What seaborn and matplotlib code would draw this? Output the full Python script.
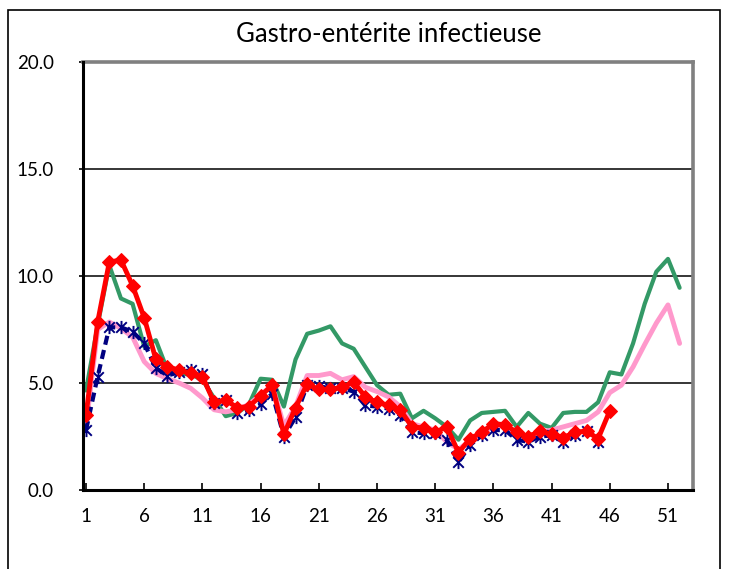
import matplotlib
matplotlib.use("Agg")
import matplotlib.pyplot as plt
from matplotlib.path import Path
from matplotlib.patches import Rectangle
import numpy as np
import pandas as pd
import seaborn as sns

sns.set_theme(style="white")
plt.rcParams["font.family"] = ["Lato", "DejaVu Sans"]

title = "Gastro-entérite infectieuse"

weeks_all = list(range(1, 53))

green_vals = [4.65, 7.7, 10.5, 8.95, 8.7, 6.7, 7.0, 5.6, 5.45, 5.4,
              5.15, 4.3, 3.45, 3.6, 4.0, 5.2, 5.15, 3.9, 6.1, 7.3,
              7.45, 7.65, 6.85, 6.6, 5.75, 4.9, 4.45, 4.5, 3.35, 3.7,
              3.35, 2.95, 2.35, 3.25, 3.6, 3.65, 3.7, 2.95, 3.6, 3.1,
              2.9, 3.6, 3.65, 3.65, 4.1, 5.5, 5.4, 6.85, 8.7, 10.2,
              10.8, 9.45]

pink_vals = [3.0, 7.5, 7.85, 7.55, 7.15, 6.0, 5.45, 5.2, 5.0, 4.75,
             4.3, 3.75, 3.65, 3.75, 4.0, 4.45, 4.9, 3.0, 3.9, 5.35,
             5.35, 5.45, 5.15, 5.3, 4.8, 4.6, 4.35, 3.9, 3.1, 2.95,
             2.8, 2.25, 1.9, 2.3, 2.6, 3.0, 3.0, 2.6, 2.5, 2.7,
             2.8, 2.95, 3.1, 3.25, 3.65, 4.55, 4.9, 5.75, 6.8, 7.8,
             8.65, 6.85]

blue_vals = [2.8, 5.3, 7.6, 7.6, 7.4, 6.85, 5.7, 5.35, 5.5, 5.6,
             5.4, 4.05, 4.2, 3.6, 3.75, 4.0, 4.5, 2.5, 3.4, 4.9,
             4.85, 4.75, 4.75, 4.6, 3.95, 3.9, 3.8, 3.5, 2.7, 2.65,
             2.65, 2.35, 1.3, 2.1, 2.55, 2.8, 2.8, 2.35, 2.25, 2.5,
             2.55, 2.25, 2.55, 2.75, 2.25]

red_vals = [3.5, 7.85, 10.65, 10.75, 9.55, 8.05, 6.1, 5.75, 5.6, 5.45,
            5.3, 4.1, 4.2, 3.85, 3.9, 4.4, 4.9, 2.6, 3.85, 4.95,
            4.7, 4.7, 4.8, 5.05, 4.35, 4.1, 3.95, 3.75, 2.95, 2.9,
            2.7, 2.95, 1.75, 2.4, 2.7, 3.1, 3.05, 2.7, 2.5, 2.75,
            2.6, 2.45, 2.7, 2.75, 2.4, 3.7]

y_ticks = [0, 5, 10, 15, 20]
y_tick_labels = ["0.0", "5.0", "10.0", "15.0", "20.0"]
x_ticks = [1, 6, 11, 16, 21, 26, 31, 36, 41, 46, 51]

W, H = 729, 569
fig = plt.figure(figsize=(W / 100, H / 100), dpi=100)
ax = fig.add_axes([83 / W, 1 - 490 / H, (693 - 83) / W, (490 - 62) / H])

# asterisk marker (vertical bar + X)
star = Path([(0, -1), (0, 1), (-0.8, -0.8), (0.8, 0.8), (-0.8, 0.8), (0.8, -0.8)],
            [Path.MOVETO, Path.LINETO, Path.MOVETO, Path.LINETO, Path.MOVETO, Path.LINETO])

sns.lineplot(x=weeks_all, y=green_vals, ax=ax, color="#339966", lw=3.0, zorder=3)
sns.lineplot(x=weeks_all, y=pink_vals, ax=ax, color="#FF99CC", lw=3.5, zorder=3)
sns.lineplot(x=weeks_all[:len(blue_vals)], y=blue_vals, ax=ax, color="#000080", lw=3.0,
             linestyle=(0, (2.2, 1.3)), marker=star, markersize=9.5, markeredgewidth=1.4,
             markeredgecolor="#000080", zorder=4)
sns.lineplot(x=weeks_all[:len(red_vals)], y=red_vals, ax=ax, color="#FF0000", lw=3.5,
             marker="D", markersize=7.5, markeredgecolor="#FF0000", zorder=5)

ax.set_xlim(0.74, 53.15)
ax.set_ylim(0, 20)
ax.set_yticks(y_ticks)
ax.set_yticklabels(y_tick_labels)
ax.set_xticks(x_ticks)
ax.set_xticklabels([str(t) for t in x_ticks])
ax.set_xlabel("")
ax.set_ylabel("")

for v in [5, 10, 15]:
    ax.axhline(v, color="black", lw=1.1, zorder=1)

ax.tick_params(axis="y", direction="out", length=3, width=1.2, color="black",
               pad=18, labelsize=13.5, labelcolor="black", left=True)
ax.tick_params(axis="x", direction="in", length=5, width=1.2, color="black",
               pad=13, labelsize=13.5, labelcolor="black", bottom=True)

for s in ["top", "right"]:
    ax.spines[s].set_color("#808080")
    ax.spines[s].set_linewidth(2.6)
for s in ["left", "bottom"]:
    ax.spines[s].set_color("black")
    ax.spines[s].set_linewidth(2.2)
    ax.spines[s].set_zorder(6)

fig.text(389 / W, 1 - 35 / H, title, ha="center", va="center", fontsize=18.5, color="black")

# outer chart border
fig.patches.append(Rectangle((8 / W, -0.05), (720 - 8) / W, 1.05 - 10 / H,
                             transform=fig.transFigure, fill=False, edgecolor="black",
                             lw=1.2, clip_on=False))

fig.savefig("out.png", dpi=100)
